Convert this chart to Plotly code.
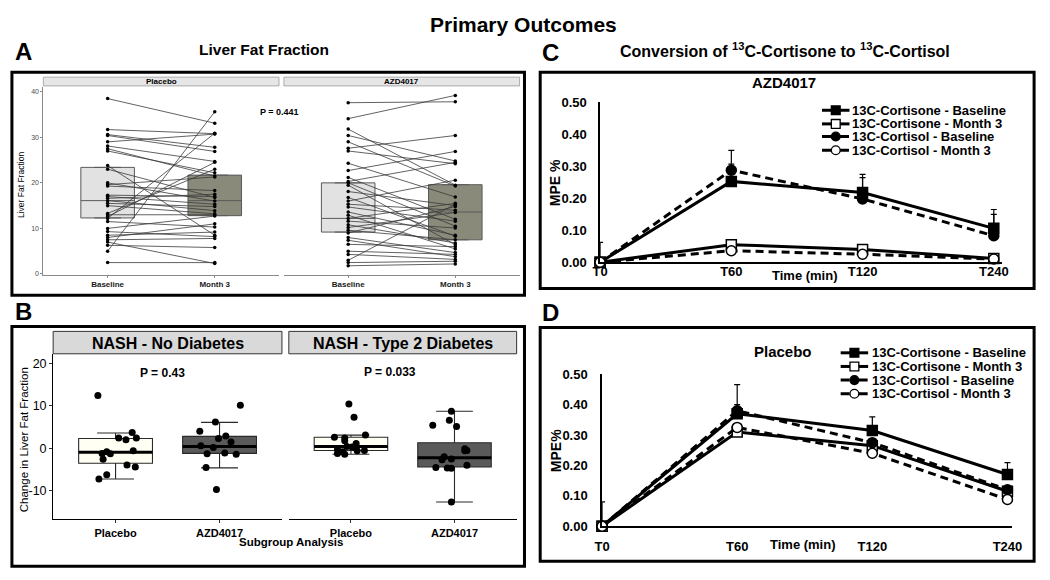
import plotly.graph_objects as go

W, H = 1050, 580


def px(x):
    return x / W


def py(y):
    return 1 - y / H


ARIAL = "Arial, Liberation Sans, sans-serif"

# ---------------- Panel A data: paired liver fat fraction ----------------
A_TIMEPOINTS = ["Baseline", "Month 3"]
A_PBO_BASE = [38.5, 31.7, 30.6, 30.4, 29.0, 28.1, 27.5, 27.0, 23.8, 23.0, 20.0, 19.6, 19.3,
              17.3, 17.0, 16.6, 16.1, 15.5, 15.0, 13.3, 13.0, 12.6, 12.2, 11.5, 10.0, 9.3,
              8.5, 8.0, 7.5, 7.0, 6.3, 5.0, 2.5]
A_PBO_M3 = [33.1, 30.8, 27.8, 26.9, 30.7, 24.7, 21.5, 22.2, 8.5, 16.8, 16.0, 21.3, 18.3,
            17.0, 15.3, 17.5, 13.9, 14.8, 13.2, 23.0, 13.0, 24.5, 30.9, 10.3, 12.7, 8.2,
            9.2, 11.0, 7.8, 2.3, 5.8, 35.6, 2.5]
A_AZD_BASE = [37.6, 34.1, 31.8, 30.4, 29.0, 27.6, 27.0, 24.3, 22.7, 21.2, 20.3, 20.0, 19.5,
              18.1, 16.8, 16.0, 15.3, 14.7, 13.6, 12.9, 12.2, 11.6, 10.8, 10.2, 9.6, 9.0,
              8.0, 7.4, 6.5, 5.0, 4.3, 3.0, 2.5, 1.8]
A_AZD_M3 = [37.8, 39.2, 19.5, 24.8, 19.3, 30.4, 24.2, 16.9, 26.9, 12.0, 24.5, 10.5, 6.4,
            15.0, 8.3, 20.6, 14.0, 11.6, 8.5, 5.5, 15.5, 10.1, 6.8, 13.5, 7.5, 14.8,
            4.7, 3.8, 6.0, 4.3, 3.2, 15.3, 2.8, 2.2]
A_PBO_Q1 = [12.3, 12.8]
A_PBO_MED = [16.1, 16.1]
A_PBO_Q3 = [23.4, 21.7]
A_AZD_Q1 = [9.2, 7.5]
A_AZD_MED = [12.2, 13.6]
A_AZD_Q3 = [20.0, 19.6]
A_BOX_COLORS = ["#e2e2e2", "#8a8a7b"]

# ---------------- Panel B data: change in liver fat by subgroup ----------------
B_GROUPS = ["Placebo", "AZD4017"]
B_YTICKS = [-10, 0, 10, 20]
B_ND_PBO_Y = [12.4, -7.2, -6.2, -2.6, -1.2, -0.8, -1.3, 2.4, 2.0, 3.7, 2.4, -0.6, -3.9, -4.4]
B_ND_PBO_JIT = [-0.17, -0.16, -0.085, -0.12, -0.13, -0.085, -0.05, 0.03, 0.10, 0.16, 0.20, 0.17, 0.11, 0.19]
B_ND_AZD_Y = [10.1, 6.2, 4.0, 2.9, 2.3, 0.6, 0.2, 1.5, -1.1, -1.3, -1.4, -4.5, -9.7]
B_ND_AZD_JIT = [0.20, -0.04, -0.19, 0.06, -0.01, -0.18, -0.06, 0.11, 0.05, -0.12, 0.16, -0.13, -0.03]
B_T2D_PBO_Y = [10.4, 7.3, 2.6, 2.4, 1.8, 3.1, 1.1, 0.4, -0.3, -0.8, -1.2, -0.6, -0.5, -1.4, 0.3]
B_T2D_PBO_JIT = [-0.02, 0.03, -0.16, -0.06, -0.06, 0.14, 0.05, -0.04, -0.13, -0.08, -0.13, 0.06, 0.13, -0.06, 0.01]
B_T2D_AZD_Y = [8.7, 6.6, 5.4, 5.1, -0.1, -0.5, -0.6, -2.0, -2.7, -2.5, -4.5, -4.6, -4.7, -4.0, -12.6]
B_T2D_AZD_JIT = [-0.03, -0.05, -0.21, 0.02, 0.10, 0.12, 0.10, -0.10, -0.12, -0.03, -0.18, -0.07, -0.03, 0.12, -0.03]
# box stats per facet: [Placebo, AZD4017]
B_ND_Q1 = [-3.5, -1.2]
B_ND_MED = [-0.9, 0.4]
B_ND_Q3 = [2.3, 2.8]
B_ND_LO = [-7.2, -4.6]
B_ND_HI = [3.6, 6.1]
B_T2D_Q1 = [-0.5, -4.4]
B_T2D_MED = [0.4, -2.2]
B_T2D_Q3 = [2.6, 1.3]
B_T2D_LO = [-1.4, -12.6]
B_T2D_HI = [3.1, 8.7]
B_BOX_COLORS = ["#fffff4", "#5a5a5a"]

# ---------------- Panels C & D data: MPE % over time ----------------
TIMES = ["T0", "T60", "T120", "T240"]
SERIES_NAMES = ["13C-Cortisone - Baseline", "13C-Cortisone - Month 3",
                "13C-Cortisol - Baseline", "13C-Cortisol - Month 3"]
C_CORTISONE_BASE = [0.0, 0.253, 0.218, 0.106]
C_CORTISONE_BASE_ERR = [0.062, 0.054, 0.057, 0.059]
C_CORTISONE_M3 = [0.0, 0.055, 0.040, 0.012]
C_CORTISOL_BASE = [0.0, 0.288, 0.198, 0.083]
C_CORTISOL_BASE_ERR = [0.0, 0.062, 0.067, 0.067]
C_CORTISOL_M3 = [0.0, 0.036, 0.025, 0.010]

D_CORTISONE_BASE = [0.0, 0.370, 0.315, 0.170]
D_CORTISONE_BASE_ERR = [0.080, 0.096, 0.045, 0.039]
D_CORTISONE_M3 = [0.0, 0.310, 0.265, 0.115]
D_CORTISOL_BASE = [0.0, 0.380, 0.275, 0.120]
D_CORTISOL_BASE_ERR = [0.0, 0.020, 0.0, 0.0]
D_CORTISOL_M3 = [0.0, 0.325, 0.240, 0.088]

fig = go.Figure()

# ---------- Panel A ----------
POS = [1, 2]


def paired(base, m3):
    xs, ys = [], []
    for b, m in zip(base, m3):
        xs += [POS[0], POS[1], None]
        ys += [b, m, None]
    return xs, ys


for (q1s, meds, q3s, xa, ya) in [(A_PBO_Q1, A_PBO_MED, A_PBO_Q3, "x", "y"),
                                 (A_AZD_Q1, A_AZD_MED, A_AZD_Q3, "x2", "y2")]:
    for i in range(2):
        fig.add_trace(go.Box(x=[POS[i]], q1=[q1s[i]], median=[meds[i]], q3=[q3s[i]],
                             lowerfence=[q1s[i]], upperfence=[q3s[i]], orientation="v",
                             width=0.5, fillcolor=A_BOX_COLORS[i],
                             line=dict(color="#5a5a5a", width=1), boxpoints=False,
                             xaxis=xa, yaxis=ya, showlegend=False, hoverinfo="skip"))

for (b, m, xa, ya) in [(A_PBO_BASE, A_PBO_M3, "x", "y"), (A_AZD_BASE, A_AZD_M3, "x2", "y2")]:
    xs, ys = paired(b, m)
    fig.add_trace(go.Scatter(x=xs, y=ys, mode="lines+markers",
                             line=dict(color="#3a3a3a", width=0.8),
                             marker=dict(color="black", size=3.5),
                             xaxis=xa, yaxis=ya, showlegend=False, cliponaxis=False))

# ---------- Panel B ----------
B_HALF = 0.355
for (q1s, meds, q3s, los, his, ptsy, ptsj, xa, ya) in [
        (B_ND_Q1, B_ND_MED, B_ND_Q3, B_ND_LO, B_ND_HI,
         [B_ND_PBO_Y, B_ND_AZD_Y], [B_ND_PBO_JIT, B_ND_AZD_JIT], "x3", "y3"),
        (B_T2D_Q1, B_T2D_MED, B_T2D_Q3, B_T2D_LO, B_T2D_HI,
         [B_T2D_PBO_Y, B_T2D_AZD_Y], [B_T2D_PBO_JIT, B_T2D_AZD_JIT], "x4", "y4")]:
    for i in range(2):
        fig.add_trace(go.Box(x=[POS[i]], q1=[q1s[i]], median=[meds[i]], q3=[q3s[i]],
                             lowerfence=[los[i]], upperfence=[his[i]], orientation="v",
                             width=2 * B_HALF, fillcolor=B_BOX_COLORS[i],
                             line=dict(color="#2a2a2a", width=1.1), boxpoints=False,
                             xaxis=xa, yaxis=ya, showlegend=False, hoverinfo="skip"))
        fig.add_trace(go.Scatter(x=[POS[i] - B_HALF, POS[i] + B_HALF], y=[meds[i], meds[i]],
                                 mode="lines", line=dict(color="black", width=3),
                                 xaxis=xa, yaxis=ya, showlegend=False))
        fig.add_trace(go.Scatter(x=[POS[i] + j for j in ptsj[i]], y=ptsy[i], mode="markers",
                                 marker=dict(color="black", size=7),
                                 xaxis=xa, yaxis=ya, showlegend=False))

# ---------- Panels C & D ----------
STYLES = [
    dict(dash="solid", symbol="square", fill="black"),
    dict(dash="solid", symbol="square", fill="white"),
    dict(dash="8px,5px", symbol="circle", fill="black"),
    dict(dash="8px,5px", symbol="circle", fill="white"),
]
for (vals, errs, xa, ya) in [
        ([C_CORTISONE_BASE, C_CORTISONE_M3, C_CORTISOL_BASE, C_CORTISOL_M3],
         [C_CORTISONE_BASE_ERR, None, C_CORTISOL_BASE_ERR, None], "x5", "y5"),
        ([D_CORTISONE_BASE, D_CORTISONE_M3, D_CORTISOL_BASE, D_CORTISOL_M3],
         [D_CORTISONE_BASE_ERR, None, D_CORTISOL_BASE_ERR, None], "x6", "y6")]:
    for k in range(4):
        st = STYLES[k]
        err = None
        if errs[k] is not None:
            err = dict(type="data", array=errs[k], symmetric=False,
                       arrayminus=[0] * len(errs[k]), color="black", thickness=1.2, width=3)
        fig.add_trace(go.Scatter(
            x=TIMES, y=vals[k], mode="lines+markers", name=SERIES_NAMES[k],
            line=dict(color="black", width=3, dash=st["dash"]),
            marker=dict(symbol=st["symbol"], size=10, color=st["fill"],
                        line=dict(color="black", width=1.5)),
            error_y=err, xaxis=xa, yaxis=ya, showlegend=False, cliponaxis=False))

# ---------- Axes ----------
axis_common = dict(showgrid=False, zeroline=False)
MPE_TICKS = [0, 0.1, 0.2, 0.3, 0.4, 0.5]
layout_axes = dict(
    # Panel A
    xaxis=dict(domain=[px(36), px(276)], range=[0.4, 2.6], anchor="y", tickvals=POS,
               ticktext=[f"<b>{t}</b>" for t in A_TIMEPOINTS], showline=True,
               linecolor="#8a8a8a", linewidth=1, ticks="outside", ticklen=2,
               tickcolor="#8a8a8a", tickfont=dict(family=ARIAL, size=8, color="#1a1a1a"),
               **axis_common),
    yaxis=dict(domain=[py(275), py(82)], range=[-0.2, 41.07], anchor="x",
               tickvals=[0, 10, 20, 30, 40], showline=True, linecolor="#8a8a8a", linewidth=1,
               ticks="outside", ticklen=2, tickcolor="#8a8a8a",
               tickfont=dict(family=ARIAL, size=7, color="#4d4d4d"), **axis_common),
    xaxis2=dict(domain=[px(281), px(521)], range=[0.4, 2.6], anchor="y2", tickvals=POS,
                ticktext=[f"<b>{t}</b>" for t in A_TIMEPOINTS], showline=True,
                linecolor="#8a8a8a", linewidth=1, ticks="outside", ticklen=2,
                tickcolor="#8a8a8a", tickfont=dict(family=ARIAL, size=8, color="#1a1a1a"),
                **axis_common),
    yaxis2=dict(domain=[py(275), py(82)], range=[-0.2, 41.07], anchor="x2",
                showticklabels=False, showline=False, **axis_common),
    # Panel B
    xaxis3=dict(domain=[px(46), px(279)], range=[0.4, 2.6], anchor="y3", tickvals=POS,
                ticktext=[f"<b>{g}</b>" for g in B_GROUPS], showline=True, linecolor="black",
                linewidth=1.2, ticks="outside", ticklen=3, tickcolor="#333",
                tickfont=dict(family=ARIAL, size=11, color="black"), **axis_common),
    yaxis3=dict(domain=[py(526), py(356)], range=[-16.7, 22.2], anchor="x3",
                tickvals=B_YTICKS, ticktext=[str(v) for v in B_YTICKS],
                showline=True, linecolor="black", linewidth=1.2,
                ticks="outside", ticklen=3, tickcolor="#333",
                tickfont=dict(family=ARIAL, size=12.5, color="black"), **axis_common),
    xaxis4=dict(domain=[px(286), px(518)], range=[0.4, 2.6], anchor="y4", tickvals=POS,
                ticktext=[f"<b>{g}</b>" for g in B_GROUPS], showline=True, linecolor="black",
                linewidth=1.2, ticks="outside", ticklen=3, tickcolor="#333",
                tickfont=dict(family=ARIAL, size=11, color="black"), **axis_common),
    yaxis4=dict(domain=[py(526), py(356)], range=[-16.7, 22.2], anchor="x4",
                showticklabels=False, showline=False, **axis_common),
    # Panel C
    xaxis5=dict(domain=[px(603), px(1012)], type="category", categoryorder="array",
                categoryarray=TIMES, range=[0, 3.06], anchor="y5", showline=True,
                linecolor="black", linewidth=1.5, ticks="", ticklabelstandoff=-4,
                tickfont=dict(family=ARIAL, size=13, color="black"),
                ticktext=[f"<b>{t}</b>" for t in TIMES], tickvals=TIMES, **axis_common),
    yaxis5=dict(domain=[py(262), py(98)], range=[0, 0.5], anchor="x5",
                tickvals=MPE_TICKS, ticktext=[f"<b>{v:.2f}</b>" for v in MPE_TICKS],
                showline=True, linecolor="black", linewidth=1.5, ticks="",
                ticklabelstandoff=9,
                tickfont=dict(family=ARIAL, size=13, color="black"), **axis_common),
    # Panel D
    xaxis6=dict(domain=[px(605), px(1022)], type="category", categoryorder="array",
                categoryarray=TIMES, range=[0, 3.03], anchor="y6", showline=True,
                linecolor="black", linewidth=1.5, ticks="", ticklabelstandoff=7,
                tickfont=dict(family=ARIAL, size=13, color="black"),
                ticktext=[f"<b>{t}</b>" for t in TIMES], tickvals=TIMES, **axis_common),
    yaxis6=dict(domain=[py(533), py(377)], range=[0, 0.5], anchor="x6",
                tickvals=MPE_TICKS, ticktext=[f"<b>{v:.2f}</b>" for v in MPE_TICKS],
                showline=True, linecolor="black", linewidth=1.5, ticks="",
                ticklabelstandoff=10,
                tickfont=dict(family=ARIAL, size=13, color="black"), **axis_common),
)

# ---------- Shapes: panel borders, strips, legend keys ----------
shapes = []


def rect(x0, y0, x1, y1, **kw):
    d = dict(type="rect", xref="paper", yref="paper", x0=px(x0), x1=px(x1), y0=py(y1), y1=py(y0),
             layer="above")
    d.update(kw)
    return d


# strips A
shapes.append(rect(36, 72, 276, 81, fillcolor="#e6e6e6", line=dict(color="#9a9a9a", width=0.8)))
shapes.append(rect(281, 72, 521, 81, fillcolor="#e6e6e6", line=dict(color="#9a9a9a", width=0.8)))
# strips B
shapes.append(rect(46, 333, 279, 356, fillcolor="#d9d9d9", line=dict(color="#333", width=1)))
shapes.append(rect(286, 333, 518, 356, fillcolor="#d9d9d9", line=dict(color="#333", width=1)))
# panel borders
for (x0, y0, x1, y1) in [(4, 67, 526, 296), (4, 328, 526, 574), (542, 67, 1045, 289),
                         (542, 329, 1045, 569)]:
    shapes.append(rect(x0, y0, x1, y1, line=dict(color="black", width=3)))

annotations = []


def ann(x, y, text, size, xanchor="center", angle=0, color="black"):
    annotations.append(dict(x=px(x), y=py(y), xref="paper", yref="paper", text=text,
                            showarrow=False, xanchor=xanchor, yanchor="middle",
                            textangle=angle, font=dict(family=ARIAL, size=size, color=color)))


# manual legends for C and D
def legend_block(x_key0, x_key1, x_text, rows):
    for k, yrow in enumerate(rows):
        st = STYLES[k]
        xm = (x_key0 + x_key1) / 2
        dash = "solid" if st["dash"] == "solid" else "dash"
        shapes.append(dict(type="line", xref="paper", yref="paper", x0=px(x_key0), x1=px(x_key1),
                           y0=py(yrow), y1=py(yrow), line=dict(color="black", width=3, dash=dash),
                           layer="above"))
        r = 4.5
        shapes.append(dict(type="rect" if st["symbol"] == "square" else "circle",
                           xref="paper", yref="paper", x0=px(xm - r), x1=px(xm + r),
                           y0=py(yrow + r), y1=py(yrow - r), fillcolor=st["fill"],
                           line=dict(color="black", width=1.3), layer="above"))
        ann(x_text, yrow, f"<b>{SERIES_NAMES[k]}</b>", 13, xanchor="left")


legend_block(829, 857, 858, [106, 120, 133, 147])
legend_block(848, 876, 878, [355, 369, 383, 397])

# ---------- Text ----------
ann(525, 18, "<b>Primary Outcomes</b>", 21)
ann(16, 46, "<b>A</b>", 24)
ann(16, 313, "<b>B</b>", 24)
ann(552, 47, "<b>C</b>", 24)
ann(552, 314, "<b>D</b>", 24)
ann(261, 44, "<b>Liver Fat Fraction</b>", 15.5)
ann(791, 44, "<b>Conversion of <sup>13</sup>C-Cortisone to <sup>13</sup>C-Cortisol</b>", 16)
# panel A
ann(156, 76.5, "<b>Placebo</b>", 8)
ann(401, 76.5, "<b>AZD4017</b>", 8)
ann(276, 108, "<b>P = 0.441</b>", 9)
ann(14, 183, "Liver Fat Fraction", 8.5, angle=-90)
# panel B
ann(163, 345, "<b>NASH - No Diabetes</b>", 16)
ann(402, 345, "<b>NASH - Type 2 Diabetes</b>", 16)
ann(157, 376, "<b>P = 0.43</b>", 12)
ann(389, 375, "<b>P = 0.033</b>", 12)
ann(288, 549, "<b>Subgroup Analysis</b>", 11.5)
ann(16, 444, "Change in Liver Fat Fraction", 11.5, angle=-90)
# panel C
ann(790, 78, "<b>AZD4017</b>", 15)
ann(812, 276, "<b>Time (min)</b>", 13)
ann(557, 180, "<b>MPE %</b>", 14, angle=-90)
# panel D
ann(789, 354, "<b>Placebo</b>", 15)
ann(810, 552, "<b>Time (min)</b>", 13)
ann(558, 455, "<b>MPE%</b>", 14, angle=-90)

fig.update_layout(
    width=W, height=H, margin=dict(l=0, r=0, t=0, b=0),
    paper_bgcolor="white", plot_bgcolor="rgba(0,0,0,0)",
    showlegend=False, shapes=shapes, annotations=annotations,
    font=dict(family=ARIAL, color="black"),
    **layout_axes,
)

fig.write_html("out.html", config={"displayModeBar": False},
               post_script="document.body.style.margin='0px';")
